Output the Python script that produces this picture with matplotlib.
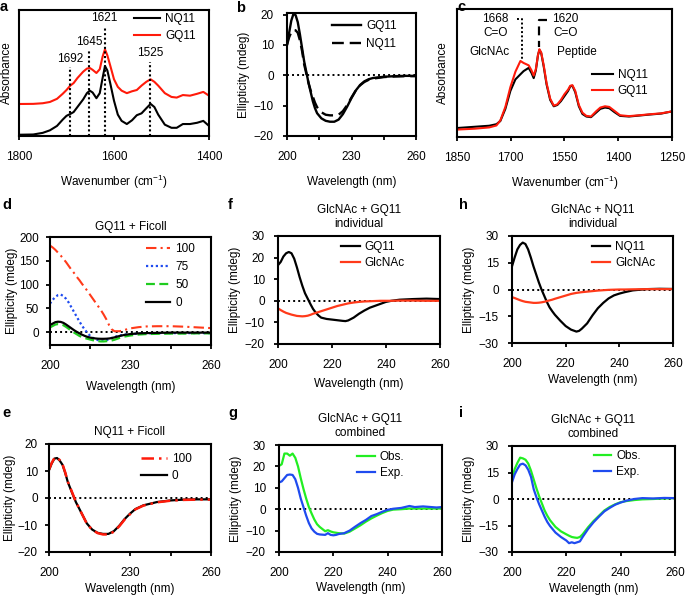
import matplotlib
matplotlib.use("Agg")
import matplotlib.pyplot as plt

plt.rcParams["font.family"] = ["Liberation Sans", "DejaVu Sans"]
plt.rcParams["mathtext.fontset"] = "custom"
plt.rcParams["mathtext.rm"] = "Liberation Sans"
plt.rcParams["font.size"] = 8.5
plt.rcParams["axes.linewidth"] = 1.5
plt.rcParams["xtick.major.width"] = 1.3
plt.rcParams["ytick.major.width"] = 1.3
plt.rcParams["xtick.major.size"] = 3
plt.rcParams["ytick.major.size"] = 3
plt.rcParams["xtick.major.pad"] = 7.5
plt.rcParams["ytick.major.pad"] = 6.5

RED = "#ff1a0a"
ORANGE = "#ff3a1a"
GREEN = "#22ee22"
BLUE = "#1f4bef"

# ---- a: FTIR ----
a_wn = [1800, 1770, 1750, 1735, 1720, 1708, 1700, 1692, 1685, 1677, 1665, 1657, 1651, 1645,
        1637, 1630, 1624, 1619, 1614, 1608, 1600, 1592, 1584, 1573, 1562, 1552, 1542, 1532,
        1523, 1515, 1507, 1493, 1479, 1468, 1455, 1440, 1425, 1412, 1400]
a_nq11 = [0.01, 0.012, 0.025, 0.045, 0.08, 0.13, 0.16, 0.175, 0.19, 0.23, 0.29, 0.34, 0.36, 0.345,
          0.30, 0.34, 0.46, 0.555, 0.52, 0.42, 0.28, 0.17, 0.12, 0.095, 0.125, 0.165, 0.18, 0.22,
          0.255, 0.23, 0.17, 0.09, 0.065, 0.065, 0.095, 0.095, 0.105, 0.12, 0.08]
a_gq11 = [0.254, 0.255, 0.26, 0.27, 0.295, 0.335, 0.365, 0.40, 0.42, 0.46, 0.51, 0.535, 0.54, 0.525,
          0.50, 0.53, 0.63, 0.688, 0.64, 0.56, 0.45, 0.39, 0.36, 0.34, 0.355, 0.365, 0.40, 0.43,
          0.45, 0.43, 0.40, 0.34, 0.31, 0.305, 0.325, 0.32, 0.335, 0.35, 0.32]
a_peak_pos = [1692, 1653, 1620, 1524]
a_peak_top = [0.55, 0.68, 0.87, 0.59]
a_peak_labels = ["1692", "1645", "1621", "1525"]

# ---- b ----
b_wl = [200, 201, 202, 203, 204, 205, 206, 207, 208, 209, 210, 211, 212, 213, 214, 216, 218, 220,
        222, 224, 226, 228, 230, 232, 234, 236, 238, 240, 245, 250, 255, 260]
b_gq11 = [10, 14, 18, 20.2, 19.8, 17.5, 13.5, 9, 4.5, 1, -2.5, -5.5, -8.5, -10.8, -12.5, -14.2, -15,
          -15.3, -15.3, -14.6, -12.8, -10.3, -7.5, -5, -3.2, -2, -1.3, -0.9, -0.5, -0.3, -0.2, -0.2]
b_nq11 = [10, 12.5, 14.2, 14.9, 14.8, 14, 11.5, 8, 3.5, 0.5, -2.5, -5, -7, -9, -10.5, -12.2, -13,
          -13.2, -13.2, -13, -11.8, -9.8, -7.3, -5, -3.3, -2.2, -1.5, -1.1, -0.6, -0.4, -0.3, -0.3]

# ---- c: FTIR ----
c_wn = [1850, 1800, 1760, 1740, 1729, 1715, 1701, 1687, 1673, 1664, 1650, 1642, 1636, 1630, 1624,
        1620, 1615, 1608, 1600, 1590, 1580, 1570, 1560, 1550, 1540, 1534, 1528, 1520, 1510, 1500,
        1489, 1476, 1462, 1450, 1437, 1425, 1411, 1395, 1370, 1340, 1310, 1280, 1250]
c_gq11 = [0.058, 0.065, 0.075, 0.09, 0.13, 0.235, 0.39, 0.51, 0.594, 0.578, 0.56, 0.52, 0.48, 0.53,
          0.64, 0.686, 0.66, 0.56, 0.42, 0.30, 0.245, 0.255, 0.29, 0.335, 0.37, 0.40, 0.405, 0.36,
          0.25, 0.19, 0.165, 0.16, 0.2, 0.23, 0.24, 0.235, 0.205, 0.17, 0.163, 0.17, 0.178, 0.185, 0.2]
c_nq11 = [0.07, 0.08, 0.088, 0.10, 0.125, 0.22, 0.36, 0.45, 0.49, 0.515, 0.54, 0.50, 0.46, 0.52,
          0.64, 0.68, 0.655, 0.55, 0.41, 0.29, 0.24, 0.25, 0.28, 0.32, 0.36, 0.395, 0.40, 0.35,
          0.24, 0.18, 0.16, 0.155, 0.19, 0.22, 0.23, 0.225, 0.195, 0.165, 0.16, 0.168, 0.176, 0.183, 0.2]

# ---- d: GQ11 + Ficoll ----
d_wl = [200, 201, 202, 203, 204, 205, 206, 207, 208, 209, 210, 211, 212, 213, 214, 215, 216, 217,
        218, 219, 220, 221, 222, 223, 224, 226, 228, 230, 233, 236, 240, 245, 250, 255, 260]
d_100 = [182, 178, 173, 167, 161, 154, 147, 139, 131, 124, 116, 109, 101, 94, 86, 78, 70, 62, 54,
         46, 37, 27, 15, 6, 2, 2, 5, 8, 10.5, 12, 12.5, 12.5, 11.5, 10, 8.5]
d_75 = [60, 68, 74, 78, 79, 76, 70, 62, 52, 42, 32, 22, 13, 5, -2, -8, -12, -15, -17, -18, -18, -17,
        -15, -12, -10, -7, -5, -4, -3, -2.5, -2, -2, -2, -2, -2]
d_50 = [10, 13, 16, 17, 16.5, 14.5, 11, 7, 3, -1, -4.5, -8, -10.5, -12.5, -14, -15.5, -17, -18, -19,
        -19.5, -19.5, -19, -18.5, -17.5, -16, -12, -9, -7, -5, -4, -3.5, -3, -3, -2.5, -2.5]
d_0 = [15, 18, 21, 22, 21.5, 19.5, 16, 12, 8, 4, 0.5, -2.5, -5.5, -8, -10, -11.5, -12.5, -13.3,
       -13.8, -14, -14, -13.8, -13.3, -12.5, -11, -8, -5.5, -4, -2.5, -2, -1.5, -1, -1, -1, -1]

# ---- e: NQ11 + Ficoll ----
e_wl = [200, 201, 202, 203, 204, 205, 206, 207, 208, 209, 210, 212, 214, 216, 218, 220, 222, 224,
        226, 228, 230, 232, 235, 240, 245, 250, 255, 260]
e_100 = [10.5, 13, 14.8, 15, 14, 12.5, 9.5, 6, 3.5, 1, -1.5, -5.5, -9.5, -11.8, -13, -13.5, -13.5,
         -12.5, -10.5, -8, -6, -4.2, -2.8, -1.6, -1, -0.7, -0.6, -0.6]
e_0 = [10.3, 12.8, 14.6, 14.8, 13.8, 12.3, 9.3, 5.8, 3.3, 0.8, -1.6, -5.5, -9.4, -11.7, -12.9, -13.3,
       -13.3, -12.3, -10.3, -7.8, -5.8, -4.1, -2.7, -1.5, -0.9, -0.6, -0.5, -0.5]

# ---- f / h: individual ----
fh_wl = [200, 201, 202, 203, 204, 205, 206, 207, 208, 209, 210, 211, 212, 213, 214, 215, 216, 218,
         220, 222, 224, 225, 226, 228, 230, 232, 234, 236, 238, 240, 242, 245, 250, 255, 260]
f_gq11 = [16.5, 18, 20.5, 22, 22.6, 22, 19.5, 15.5, 11, 7, 3.5, 1, -1.5, -3.8, -5.5, -6.8, -7.8,
          -8.4, -8.7, -9, -9.3, -9.4, -9.1, -7.8, -6, -4.5, -3.2, -2.3, -1.4, -0.5, 0, 0.5, 0.8, 1, 0.8]
f_glcnac = [-3.5, -4.3, -5, -5.6, -6, -6.4, -6.7, -7, -7.1, -7.2, -7.1, -6.9, -6.5, -6, -5.6, -5.2,
            -4.8, -4, -3.2, -2.4, -1.8, -1.5, -1.2, -0.8, -0.5, -0.3, -0.2, -0.1, 0, 0, 0, 0.1, 0.1, 0, 0]
h_nq11 = [13, 18, 22.5, 25, 26.3, 25.5, 22.5, 18, 13, 8.5, 4, 0, -3.5, -7, -10, -12.2, -14.2, -17.5,
          -20.5, -22.5, -23.6, -23.2, -22, -19, -14.5, -10.5, -7.5, -5, -3.3, -2.3, -1.5, -0.5, 0.2, 0.4, 0.3]
h_glcnac = [-4.3, -4.8, -5.4, -6, -6.5, -6.9, -7.1, -7.3, -7.5, -7.5, -7.4, -7.2, -6.9, -6.5, -6.1,
            -5.7, -5.2, -4.3, -3.4, -2.5, -1.9, -1.7, -1.5, -1.2, -0.9, -0.6, -0.4, -0.2, -0.1, 0, 0,
            0.1, 0.2, 0.2, 0.2]

# ---- g: combined ----
g_wl = [200, 201, 202, 203, 204, 205, 206, 207, 208, 209, 210, 211, 212, 213, 214, 215, 216, 217,
        218, 219, 220, 221, 222, 224, 226, 228, 230, 232, 234, 236, 238, 240, 242, 245, 248, 250,
        253, 256, 258, 260]
g_obs = [20.2, 21, 26, 26, 25, 26, 24, 20, 14.5, 9.5, 5, 1, -2, -4.8, -7, -8.3, -9.3, -10.3, -9.8,
         -10.4, -10.8, -11, -11.2, -11.4, -10.5, -9, -7.5, -5.8, -4.3, -3, -1.8, -0.8, -0.2, 0, 0.3,
         0.3, 0.3, 0.3, 0.3, 0.3]
g_exp = [12.5, 13, 14.5, 16, 16.2, 16, 14, 10, 5, 1, -3, -6.5, -9, -10.5, -11.5, -11.8, -11.9, -12,
         -11.2, -12, -12.2, -12, -11.6, -11.2, -10, -8.2, -6.5, -5, -3.2, -2.3, -1.2, -0.3, 0.2, 0.6,
         1.5, 1, 1.3, 1, 0.8, 1]

# ---- i: combined ----
i_wl = [200, 201, 202, 203, 204, 205, 206, 207, 208, 209, 210, 211, 212, 213, 214, 216, 218, 220,
        221, 222, 223, 224, 225, 226, 228, 230, 232, 234, 236, 238, 240, 242, 245, 248, 252, 256, 260]
i_obs = [11.5, 17, 20.5, 23.4, 23, 22.2, 20, 16, 11, 6, 1.5, -2.5, -6.5, -9.5, -12, -15.8, -18.3,
         -20, -20.8, -21.5, -21.8, -22, -21.5, -20, -16, -12.5, -9.5, -6.5, -4.5, -3, -1.8, -1.2,
         -0.6, -0.2, 0, 0.3, 0.5]
i_exp = [9.5, 14, 17, 19.5, 20, 19, 16.5, 12.5, 5.5, 1, -3, -6.5, -10, -13, -15.3, -19, -21.5, -23.5,
         -25, -24.5, -25, -24.5, -24, -21.5, -17, -13.2, -10, -7, -5, -3.2, -2, -1, 0, 0.5, 0.3, 0.6, 0.5]

W, H = 685, 598
fig = plt.figure(figsize=(W / 100, H / 100), dpi=100)


def box(l, t, r, b):
    return fig.add_axes([l / W, 1 - b / H, (r - l) / W, (b - t) / H])


def letter(x, y, s):
    fig.text(x / W, 1 - y / H, s, fontsize=10.5, fontweight="bold", ha="left", va="center")


def cd_axes(ax, yticks, ylim, xticks, xlabels, xpad, title=None, title_y=1.1, ypad=3):
    ax.axhline(0, color="black", ls=(0, (1, 1.6)), lw=1.4, zorder=1)
    ax.set_xlim(200, 260)
    ax.set_ylim(*ylim)
    ax.set_xticks(xticks)
    ax.set_xticklabels(xlabels)
    ax.set_yticks(yticks)
    ax.set_yticklabels([str(v).replace("-", "\u2212") for v in yticks])
    ax.set_xlabel("Wavelength (nm)", labelpad=xpad)
    ax.set_ylabel("Ellipticity (mdeg)", labelpad=ypad)
    if title:
        ax.text(0.5, title_y, title, transform=ax.transAxes, ha="center", va="center",
                linespacing=1.25)


def legend(ax, anchor, hl, spacing=0.45):
    ax.legend(loc="upper right", bbox_to_anchor=anchor, frameon=False, borderpad=0,
              borderaxespad=0, handlelength=hl, handletextpad=0.4, labelspacing=spacing)


x5 = [200, 215, 230, 245, 260]
x5l = ["200", "", "230", "", "260"]
x4 = [200, 220, 240, 260]
x4l = ["200", "220", "240", "260"]

# a
ax = box(19, 10, 209, 136)
ax.plot(a_wn, a_nq11, color="black", lw=1.5, label="NQ11")
ax.plot(a_wn, a_gq11, color=RED, lw=1.5, label="GQ11")
ax.vlines(a_peak_pos, 0, a_peak_top, colors="black", linestyles=(0, (1, 1.2)), lw=1.5)
for p, t, s in zip(a_peak_pos, a_peak_top, a_peak_labels):
    ax.text(p, t + 0.065, s, ha="center", va="center")
ax.set_xlim(1800, 1400)
ax.set_ylim(0, 1)
ax.set_xticks([1800, 1600, 1400])
ax.set_yticks([])
ax.set_xlabel("Wavenumber (cm$^{-1}$)", labelpad=7)
ax.set_ylabel("Absorbance", labelpad=4)
legend(ax, (0.93, 0.975), 2.2)
letter(0, 7, "a")

# b
ax = box(287, 13, 416, 136)
ax.plot(b_wl, b_gq11, color="black", lw=1.7, label="GQ11")
ax.plot(b_wl, b_nq11, color="black", lw=1.7, ls=(0, (5, 2.5)), label="NQ11")
cd_axes(ax, [-20, -10, 0, 10, 20], (-20, 20.5), x5, x5l, 10)
legend(ax, (0.85, 0.94), 2.5)
letter(236, 8, "b")

# c
ax = box(457, 9, 672, 137)
ax.plot(c_wn, c_nq11, color="black", lw=1.5, label="NQ11")
ax.plot(c_wn, c_gq11, color=RED, lw=1.5, label="GQ11")
ax.plot([1683, 1668, 1668], [0.92, 0.92, 0.6], color="black", ls=(0, (1, 1.2)), lw=1.4)
ax.plot([1598, 1620, 1620], [0.915, 0.915, 0.7], color="black", ls=(0, (4, 2.5)), lw=1.6)
ax.text(1742, 0.92, "1668", ha="center", va="center")
ax.text(1741, 0.81, "C=O", ha="center", va="center")
ax.text(1760, 0.666, "GlcNAc", ha="center", va="center")
ax.text(1548, 0.92, "1620", ha="center", va="center")
ax.text(1546, 0.81, "C=O", ha="center", va="center")
ax.text(1516, 0.666, "Peptide", ha="center", va="center")
ax.set_xlim(1850, 1250)
ax.set_ylim(0, 1)
ax.set_xticks([1850, 1700, 1550, 1400, 1250])
ax.set_yticks([])
ax.set_xlabel("Wavenumber (cm$^{-1}$)", labelpad=7)
ax.set_ylabel("Absorbance", labelpad=6)
legend(ax, (0.89, 0.53), 1.8, 0.35)
letter(457, 7, "c")

# d
ax = box(50, 237, 211, 345)
ax.plot(d_wl, d_100, color=ORANGE, lw=1.5, ls=(0, (5, 2, 1, 2)), label="100")
ax.plot(d_wl, d_75, color=BLUE, lw=1.6, ls=(0, (1, 1.2)), label="75")
ax.plot(d_wl, d_50, color="#1fcc1f", lw=1.6, ls=(0, (4, 2)), label="50")
ax.plot(d_wl, d_0, color="black", lw=1.6, label="0")
cd_axes(ax, [0, 50, 100, 150, 200], (-27, 200), x5, x5l, 6.5, "GQ11 + Ficoll", 1.09, ypad=1)
ax.tick_params(axis="y", pad=5)
legend(ax, (0.9, 0.94), 2.1, 0.5)
letter(2, 205, "d")

# e
ax = box(49, 444, 211, 552)
ax.plot(e_wl, e_0, color="black", lw=1.6, label="0")
ax.plot(e_wl, e_100, color=RED, lw=1.8, ls=(0, (5, 2, 1, 2)), label="100")
h, l = ax.get_legend_handles_labels()
cd_axes(ax, [-20, -10, 0, 10, 20], (-20, 20), x5, x5l, 3.5, "NQ11 + Ficoll", 1.11, ypad=1)
ax.tick_params(axis="y", pad=5)
ax.legend(h[::-1], l[::-1], loc="upper right", bbox_to_anchor=(0.88, 0.92), frameon=False,
          borderpad=0, borderaxespad=0, handlelength=2.2, handletextpad=0.4, labelspacing=0.45)
letter(2, 413, "e")

# f
ax = box(278, 236, 440, 344)
ax.plot(fh_wl, f_gq11, color="black", lw=1.6, label="GQ11")
ax.plot(fh_wl, f_glcnac, color=ORANGE, lw=1.6, label="GlcNAc")
cd_axes(ax, [-20, -10, 0, 10, 20, 30], (-20, 30), x4, x4l, 5.5, "GlcNAc + GQ11\nindividual", 1.175)
legend(ax, (0.78, 0.95), 1.6, 0.3)
letter(228, 205, "f")

# h
ax = box(512, 236, 673, 343)
ax.plot(fh_wl, h_nq11, color="black", lw=1.6, label="NQ11")
ax.plot(fh_wl, h_glcnac, color=ORANGE, lw=1.6, label="GlcNAc")
cd_axes(ax, [-30, -15, 0, 15, 30], (-30, 30), x4, x4l, 3.5, "GlcNAc + NQ11\nindividual", 1.175)
legend(ax, (0.89, 0.95), 1.6, 0.3)
letter(459, 205, "h")

# g
ax = box(279, 445, 442, 552)
ax.plot(g_wl, g_obs, color=GREEN, lw=1.6, label="Obs.")
ax.plot(g_wl, g_exp, color=BLUE, lw=1.6, label="Exp.")
cd_axes(ax, [-20, -10, 0, 10, 20, 30], (-20, 30), x4, x4l, 2.5, "GlcNAc + GQ11\ncombined", 1.18)
legend(ax, (0.77, 0.94), 1.5, 0.3)
letter(228, 413, "g")

# i
ax = box(512, 446, 675, 552)
ax.plot(i_wl, i_obs, color=GREEN, lw=1.6, label="Obs.")
ax.plot(i_wl, i_exp, color=BLUE, lw=1.6, label="Exp.")
cd_axes(ax, [-30, -15, 0, 15, 30], (-30, 30), x4, x4l, 3, "GlcNAc + GQ11\ncombined", 1.18)
legend(ax, (0.79, 0.96), 1.5, 0.3)
letter(459, 413, "i")

fig.savefig("out.png", dpi=100)
